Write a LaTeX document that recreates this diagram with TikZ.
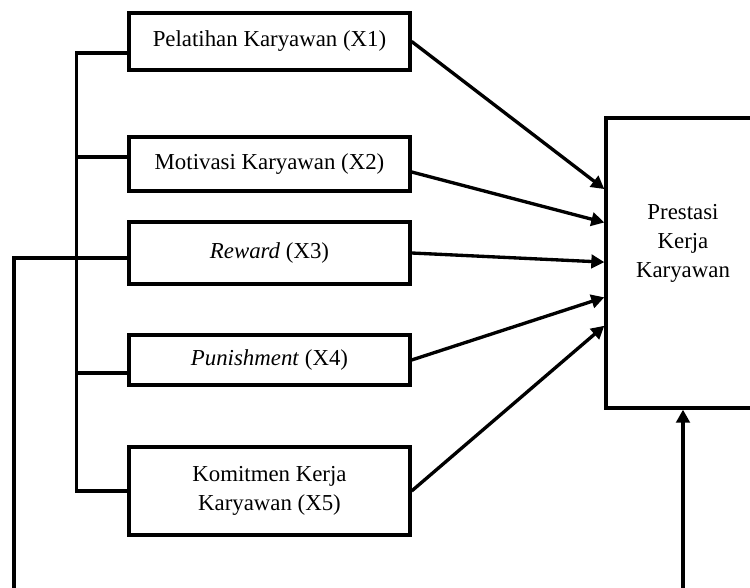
\documentclass[tikz,border=0pt]{standalone}
\usepackage{fontspec}
\setmainfont{Liberation Serif}
\usepackage{tikz}
\usetikzlibrary{arrows.meta,positioning,calc}

\tikzset{
  varbox/.style={draw, line width=1.9pt, minimum width=5.62cm, align=center,
    font=\fontsize{13}{16.5}\selectfont, inner sep=2pt},
  link/.style={line width=1.9pt},
  arr/.style={line width=1.9pt, -{Triangle[length=0.26cm, width=0.27cm]}}
}

\begin{document}
\begin{tikzpicture}
\clip (0,0) rectangle (15,-11.76);
\useasboundingbox (0,0) rectangle (15,-11.76);

% Independent variables
\node[varbox, minimum height=1.14cm] (x1) at (5.39,-0.83) {Pelatihan Karyawan (X1)};
\node[varbox, minimum height=1.08cm] (x2) at (5.39,-3.28) {Motivasi Karyawan (X2)};
\node[varbox, minimum height=1.24cm] (x3) at (5.39,-5.06) {\textit{Reward} (X3)};
\node[varbox, minimum height=1.00cm] (x4) at (5.39,-7.20) {\textit{Punishment} (X4)};
\node[varbox, minimum height=1.76cm] (x5) at (5.39,-9.82) {Komitmen Kerja\\Karyawan (X5)};

% Dependent variable
\node[draw, line width=1.9pt, minimum width=3.08cm, minimum height=5.8cm,
  label={[yshift=0.4cm, align=center, font=\fontsize{13}{16.5}\selectfont]center:Prestasi\\Kerja\\Karyawan}]
  (y) at (13.66,-5.26) {};

% Bracket on the left
\coordinate (b1) at ($(x1.west)+(-1.02,-0.23)$);
\coordinate (b2) at ($(x2.west)+(-1.02,0.14)$);
\coordinate (b4) at ($(x4.west)+(-1.02,-0.26)$);
\coordinate (b5) at ($(x5.west)+(-1.02,0)$);
\draw[link] ($(x1.west)+(0,-0.23)$) -- (b1) -- (b5) -- (x5.west);
\draw[link] (b2) -- ($(x2.west)+(0,0.14)$);
\draw[link] (b4) -- ($(x4.west)+(0,-0.26)$);

% Outer line and bottom line
\coordinate (o1) at (0.28,-5.16);
\coordinate (o2) at (0.28,-11.9);
\coordinate (r1) at (13.66,-11.9);
\draw[link] (o2) -- (o1) -- ($(x3.west)+(0,-0.1)$);
\draw[arr] (r1) -- (y.south);

% Arrows into Y
\draw[arr] (x1.east) -- ($(y.north west)!0.248!(y.south west)$);
\draw[arr] ($(x2.east)+(0,-0.16)$) -- ($(y.north west)!0.362!(y.south west)$);
\draw[arr] (x3.east) -- ($(y.north west)!0.497!(y.south west)$);
\draw[arr] (x4.east) -- ($(y.north west)!0.617!(y.south west)$);
\draw[arr] (x5.east) -- ($(y.north west)!0.714!(y.south west)$);
\end{tikzpicture}
\end{document}
